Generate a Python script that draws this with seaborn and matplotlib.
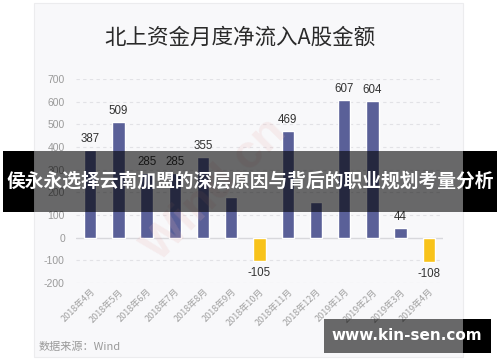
import matplotlib
matplotlib.use("Agg")
import matplotlib.pyplot as plt
import seaborn as sns
import pandas as pd
from matplotlib.patches import Rectangle

months = ["2018年4月", "2018年5月", "2018年6月", "2018年7月", "2018年8月", "2018年9月",
          "2018年10月", "2018年11月", "2018年12月", "2019年1月", "2019年2月", "2019年3月", "2019年4月"]
values = [387, 509, 285, 285, 355, 178, -105, 469, 159, 607, 604, 44, -108]
labels = ["387", "509", "285", "285", "355", "", "-105", "469", "", "607", "604", "44", "-108"]
yticks = [-200, -100, 0, 100, 200, 300, 400, 500, 600, 700]

title = "北上资金月度净流入A股金额"
source = "数据来源：Wind"
banner = "侯永永选择云南加盟的深层原因与背后的职业规划考量分析"
site = "www.kin-sen.com"

sns.set_theme(style="white")
plt.rcParams['font.family'] = ['Noto Sans CJK SC', 'DejaVu Sans']

df = pd.DataFrame({"month": months, "value": values,
                   "sign": ["pos" if v >= 0 else "neg" for v in values]})

W, H = 500, 362
fig = plt.figure(figsize=(5.0, 3.62), dpi=100)
fig.patch.set_facecolor("white")

def fx(x): return x / W
def fy(y): return 1 - y / H

# card background
fig.patches.append(Rectangle((fx(34), fy(357)), fx(463) - fx(34), fy(3) - fy(357),
                             transform=fig.transFigure, facecolor="#f8f8fa",
                             edgecolor="#ececee", linewidth=0.8, zorder=-2))

ax = fig.add_axes([fx(76), fy(283), fx(443) - fx(76), fy(79) - fy(283)])
ax.set_facecolor("none")

sns.barplot(data=df, x="month", y="value", hue="sign",
            palette={"pos": "#5a6098", "neg": "#f8c31a"}, saturation=1,
            dodge=False, width=0.44, legend=False, ax=ax, zorder=3)

ax.set_ylim(-200, 700)
ax.set_xlim(-0.5, len(months) - 0.5)
ax.set_yticks(yticks)
ax.set_yticklabels([str(t) for t in yticks], fontsize=7.5, color="#9a9a9a",
                   family=['Liberation Sans', 'DejaVu Sans'])
ax.tick_params(axis='y', length=0, pad=8)
ax.tick_params(axis='x', length=0, pad=3)
ax.set_xticks(range(len(months)))
ax.set_xticklabels(months, rotation=45, ha="right", rotation_mode="anchor",
                   fontsize=6.5, color="#a0a0a0")
ax.set_xlabel("")
ax.set_ylabel("")
for s in ax.spines.values():
    s.set_visible(False)
for t in yticks:
    if t == 0:
        ax.axhline(0, color="#d8d8dc", lw=1.0, zorder=1)
    else:
        ax.axhline(t, color="#e2e2e6", lw=0.8, ls=(0, (3, 3)), zorder=1)

for i, (v, lab) in enumerate(zip(values, labels)):
    if not lab:
        continue
    ax.annotate(lab, (i, v), xytext=(0, 5 if v >= 0 else -6), textcoords="offset pixels",
                ha="center", va="bottom" if v >= 0 else "top", fontsize=8.3,
                color="#333333", family=['Liberation Sans', 'DejaVu Sans'])

# faint watermark
fig.text(fx(215), fy(190), "Wind.cn", rotation=45, fontsize=34, color="#e8b0b0",
         alpha=0.18, ha="center", va="center", family=['Liberation Sans', 'DejaVu Sans'],
         fontweight="bold", zorder=0)

fig.text(fx(240), fy(38), title, ha="center", va="center", fontsize=15.5, color="#2a2a2a")
fig.text(fx(39), fy(347), source, ha="left", va="center", fontsize=8, color="#9a9a9a")

# banner overlay
by0, by1 = 151, 212
fig.patches.append(Rectangle((fx(3), fy(by1)), fx(34) - fx(3), fy(by0) - fy(by1),
                             transform=fig.transFigure, facecolor="black", lw=0, zorder=5))
fig.patches.append(Rectangle((fx(463), fy(by1)), fx(497) - fx(463), fy(by0) - fy(by1),
                             transform=fig.transFigure, facecolor="black", lw=0, zorder=5))
fig.patches.append(Rectangle((fx(34), fy(by1)), fx(463) - fx(34), fy(by0) - fy(by1),
                             transform=fig.transFigure, facecolor="black", alpha=0.58, lw=0, zorder=5))
fig.text(fx(250), fy(181), banner, ha="center", va="center", fontsize=13.5,
         color="white", fontweight="bold", zorder=6)

# site overlay
sy0, sy1 = 319, 353
fig.patches.append(Rectangle((fx(324), fy(sy1)), fx(463) - fx(324), fy(sy0) - fy(sy1),
                             transform=fig.transFigure, facecolor="black", alpha=0.58, lw=0, zorder=5))
fig.patches.append(Rectangle((fx(463), fy(sy1)), fx(491) - fx(463), fy(sy0) - fy(sy1),
                             transform=fig.transFigure, facecolor="black", lw=0, zorder=5))
fig.text(fx(407), fy(336), site, ha="center", va="center", fontsize=11,
         color="white", fontweight="bold", zorder=6, family=['DejaVu Sans'])

fig.savefig("out.png", dpi=100)
